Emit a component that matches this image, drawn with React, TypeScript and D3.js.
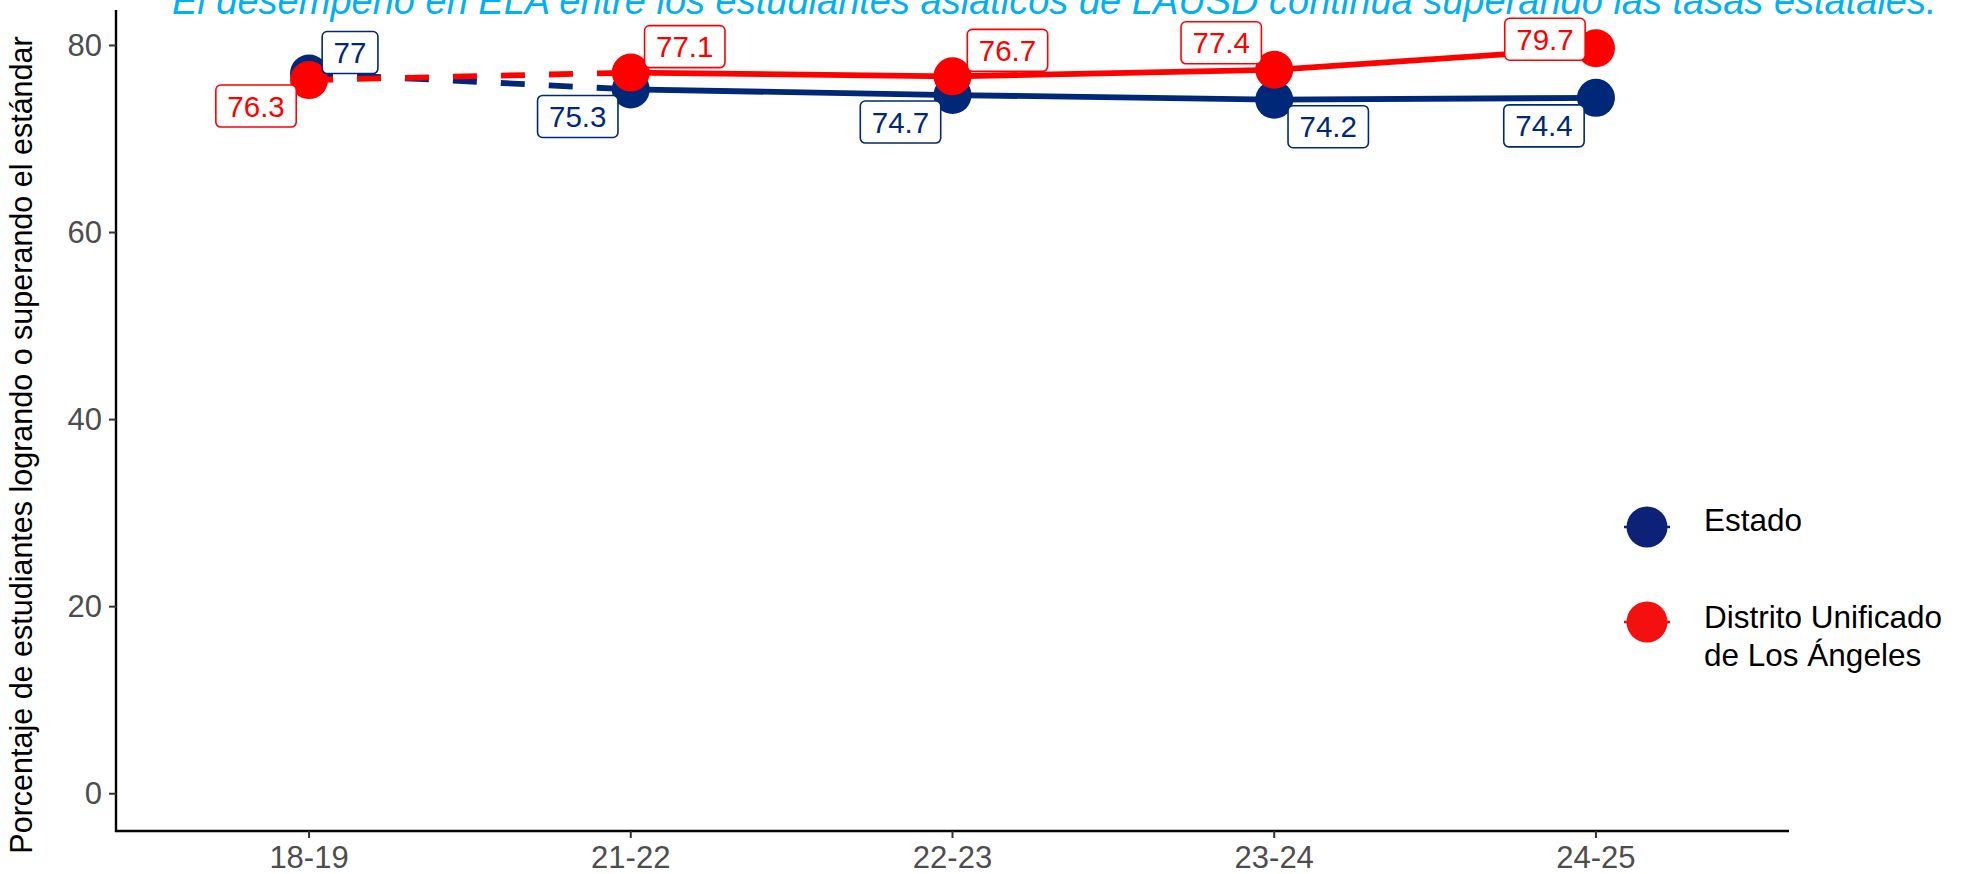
import React from "react";
import * as d3 from "d3";

const years = ["18-19", "21-22", "22-23", "23-24", "24-25"];
const estado = [77, 75.3, 74.7, 74.2, 74.4];
const lausd = [76.3, 77.1, 76.7, 77.4, 79.7];
const yTicks = [0, 20, 40, 60, 80];

// label placement (repel-style offsets from the point, px)
const estadoNudge = [[41, -21], [-53, 27], [-52, 27], [54, 27], [-52, 28]];
const lausdNudge = [[-53, 26], [54, -26], [55, -26], [-53, -27], [-51, -9]];

const W = 1967;
const H = 874;
const BLUE = "#002878";
const RED = "#FF0000";
const FONT = "'Liberation Sans', Arial, Helvetica, sans-serif";

const x = d3.scalePoint<string>().domain(years).range([116, 1789]).padding(0.6);
const y = d3.scaleLinear().domain([-3.985, 83.685]).range([831, 11]);

const line = d3
  .line<[string, number]>()
  .x((d) => x(d[0]) as number)
  .y((d) => y(d[1]));

function textW(s: string, size: number) {
  let w = 0;
  for (const c of s) w += c === "." ? 0.278 : 0.556;
  return w * size;
}

const Series = ({ vals, color }: { vals: number[]; color: string }) => {
  const pts = years.map((yr, i) => [yr, vals[i]] as [string, number]);
  return (
    <g>
      <path d={line(pts.slice(0, 2)) || ""} fill="none" stroke={color} strokeWidth={5.8} strokeDasharray="24,24" />
      <path d={line(pts.slice(1)) || ""} fill="none" stroke={color} strokeWidth={5.8} />
    </g>
  );
};

const Points = ({ vals, color }: { vals: number[]; color: string }) => (
  <g>
    {years.map((yr, i) => (
      <circle key={yr} cx={x(yr)} cy={y(vals[i])} r={19} fill={color} />
    ))}
  </g>
);

const Labels = ({ vals, color, nudge }: { vals: number[]; color: string; nudge: number[][] }) => (
  <g>
    {years.map((yr, i) => {
      const t = String(vals[i]);
      const fs = 29.5;
      const bw = textW(t, fs) + 23;
      const bh = 42;
      const cx = (x(yr) as number) + nudge[i][0];
      const cy = y(vals[i]) + nudge[i][1];
      return (
        <g key={yr}>
          <rect x={cx - bw / 2} y={cy - bh / 2} width={bw} height={bh} rx={5} fill="white" stroke={color} strokeWidth={1.6} />
          <text x={cx} y={cy} fill={color} fontSize={fs} fontFamily={FONT} textAnchor="middle" dominantBaseline="central">
            {t}
          </text>
        </g>
      );
    })}
  </g>
);

export default function App() {
  return (
    <svg width={W} height={H} style={{ position: "absolute", left: 0, top: 0 }} fontFamily={FONT}>
      <rect width={W} height={H} fill="white" />
      <text x={172} y={14} fill="#00B0F0" fontSize={38} fontStyle="italic">
        El desempeño en ELA entre los estudiantes asiáticos de LAUSD continúa superando las tasas estatales.
      </text>

      {/* axes */}
      <line x1={116} x2={116} y1={10} y2={832} stroke="black" strokeWidth={2.4} />
      <line x1={115} x2={1789} y1={831} y2={831} stroke="black" strokeWidth={2.4} />
      {yTicks.map((t) => (
        <g key={t}>
          <line x1={109} x2={116} y1={y(t)} y2={y(t)} stroke="#333" strokeWidth={2} />
          <text x={102} y={y(t)} fill="#4D4D4D" fontSize={31} textAnchor="end" dominantBaseline="central">
            {t}
          </text>
        </g>
      ))}
      {years.map((yr) => (
        <g key={yr}>
          <line x1={x(yr)} x2={x(yr)} y1={831} y2={838} stroke="#333" strokeWidth={2} />
          <text x={x(yr)} y={868} fill="#4D4D4D" fontSize={31} textAnchor="middle">
            {yr}
          </text>
        </g>
      ))}
      <text
        transform={`translate(32,445) rotate(-90)`}
        fontSize={30.5}
        fill="black"
        textAnchor="middle"
      >
        Porcentaje de estudiantes logrando o superando el estándar
      </text>

      <Series vals={estado} color={BLUE} />
      <Series vals={lausd} color={RED} />
      <Points vals={estado} color={BLUE} />
      <Points vals={lausd} color={RED} />
      <Labels vals={estado} color={BLUE} nudge={estadoNudge} />
      <Labels vals={lausd} color={RED} nudge={lausdNudge} />

      {/* legend */}
      <g>
        <line x1={1624} x2={1670} y1={527} y2={527} stroke={BLUE} strokeWidth={2.5} />
        <circle cx={1647} cy={527} r={20.5} fill="#0D2277" />
        <text x={1704} y={520} fontSize={31.5} dominantBaseline="central">Estado</text>
        <line x1={1624} x2={1670} y1={622} y2={622} stroke={RED} strokeWidth={2.5} />
        <circle cx={1647} cy={622} r={20.5} fill="#F51010" />
        <text x={1704} y={617} fontSize={31.5} dominantBaseline="central">Distrito Unificado</text>
        <text x={1704} y={655} fontSize={31.5} dominantBaseline="central">de Los Ángeles</text>
      </g>
    </svg>
  );
}
